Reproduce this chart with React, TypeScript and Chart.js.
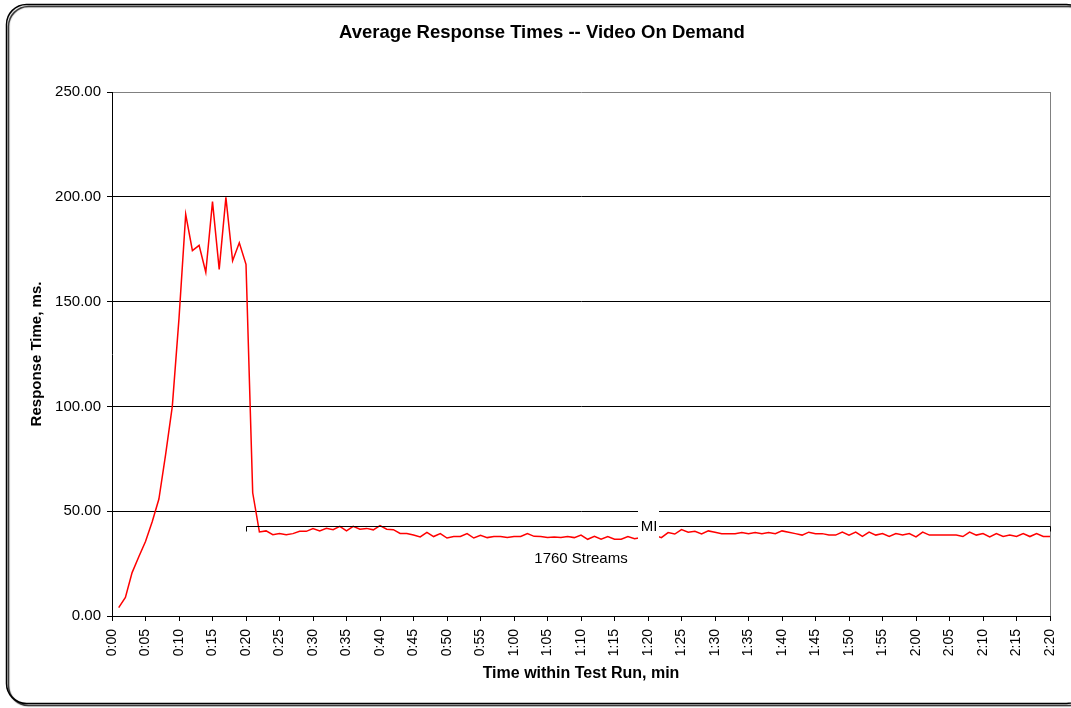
import React, { useEffect, useRef } from "react";
import { Chart, registerables } from "chart.js";

Chart.register(...registerables);

const TITLE = "Average Response Times -- Video On Demand";
const Y_TITLE = "Response Time, ms.";
const X_TITLE = "Time within Test Run, min";

// minutes 1..140
const MINUTES: number[] = Array.from({ length: 140 }, (_, i) => i + 1);

const RESPONSE_MS: number[] = [
  4.0, 8.9, 20.7, 28.3, 35.5, 45.0, 55.8, 77.0, 100.0, 142.0,
  191.6, 174.3, 176.8, 164.0, 197.7, 165.4, 199.7, 169.5, 178.1, 167.8,
  58.8, 40.1, 40.6, 38.8, 39.4, 38.8, 39.3, 40.4, 40.4, 41.7,
  40.6, 41.8, 41.2, 42.8, 40.6, 42.8, 41.4, 41.8, 41.1, 43.1,
  41.4, 41.2, 39.4, 39.4, 38.6, 37.7, 39.9, 37.9, 39.3, 37.2,
  37.9, 37.9, 39.3, 37.2, 38.5, 37.4, 37.9, 37.9, 37.4, 37.9,
  37.9, 39.3, 38.0, 37.9, 37.4, 37.7, 37.4, 37.9, 37.4, 38.6,
  36.6, 38.0, 36.6, 37.9, 36.6, 36.6, 37.9, 36.9, 37.5, 38.0,
  38.5, 37.4, 39.8, 39.1, 41.2, 40.0, 40.4, 39.1, 40.6, 40.0,
  39.3, 39.3, 39.3, 39.8, 39.3, 39.8, 39.3, 39.8, 39.3, 40.6,
  40.0, 39.3, 38.6, 40.0, 39.3, 39.3, 38.6, 38.6, 40.0, 38.6,
  40.0, 38.0, 40.0, 38.6, 39.3, 38.0, 39.3, 38.6, 39.3, 37.7,
  40.0, 38.6, 38.6, 38.6, 38.6, 38.6, 37.9, 40.0, 38.6, 39.3,
  37.7, 39.3, 37.9, 38.6, 37.9, 39.3, 37.9, 39.3, 37.9, 37.9,
];

const X_TICK_LABELS: string[] = [
  "0:00", "0:05", "0:10", "0:15", "0:20", "0:25", "0:30", "0:35", "0:40", "0:45",
  "0:50", "0:55", "1:00", "1:05", "1:10", "1:15", "1:20", "1:25", "1:30", "1:35",
  "1:40", "1:45", "1:50", "1:55", "2:00", "2:05", "2:10", "2:15", "2:20",
];

const Y_TICK_LABELS: string[] = ["0.00", "50.00", "100.00", "150.00", "200.00", "250.00"];

// annotation (bracket) values
const BRACKET_START = 20;
const BRACKET_END = 140;
const BRACKET_LEVEL = 43;
const BRACKET_MARK = "MI";
const BRACKET_MARK_AT = 80;
const PHASE_LABEL = "1760 Streams";
const PHASE_LABEL_AT = 70;
const PHASE_LABEL_LEVEL = 27.5;

const FONT = "'Liberation Sans', Arial, Helvetica, sans-serif";

export default function App() {
  const ref = useRef<HTMLCanvasElement | null>(null);

  useEffect(() => {
    if (!ref.current) return;

    const decor = {
      id: "decor",
      beforeDraw(chart: any) {
        const ctx = chart.ctx;
        ctx.save();
        ctx.fillStyle = "#fff";
        ctx.fillRect(0, 0, chart.width, chart.height);
        ctx.shadowColor = "rgba(0,0,0,0.9)";
        ctx.shadowOffsetX = 2;
        ctx.shadowOffsetY = 2;
        ctx.shadowBlur = 1;
        ctx.strokeStyle = "#000";
        ctx.lineWidth = 1.5;
        ctx.beginPath();
        (ctx as any).roundRect(6.5, 4.5, 1080, 699, 20);
        ctx.stroke();
        ctx.restore();
      },
      afterDatasetsDraw(chart: any) {
        const ctx = chart.ctx;
        const xs = chart.scales.x;
        const ys = chart.scales.y;
        const area = chart.chartArea;
        ctx.save();
        ctx.strokeStyle = "#808080";
        ctx.lineWidth = 1;
        ctx.beginPath();
        ctx.moveTo(Math.round(area.right) + 0.5, area.top);
        ctx.lineTo(Math.round(area.right) + 0.5, area.bottom);
        ctx.stroke();

        const bx1 = Math.round(xs.getPixelForValue(BRACKET_START)) + 0.5;
        const bx2 = Math.round(xs.getPixelForValue(BRACKET_END)) + 0.5;
        const by = Math.round(ys.getPixelForValue(BRACKET_LEVEL)) + 0.5;
        ctx.strokeStyle = "#000";
        ctx.lineWidth = 1;
        ctx.beginPath();
        ctx.moveTo(bx1, by + 5);
        ctx.lineTo(bx1, by);
        ctx.lineTo(bx2, by);
        ctx.lineTo(bx2, by + 5);
        ctx.stroke();

        const mx = xs.getPixelForValue(BRACKET_MARK_AT);
        ctx.fillStyle = "#fff";
        ctx.fillRect(mx - 10, by - 20, 21, 40);
        ctx.fillStyle = "#000";
        ctx.font = `15px ${FONT}`;
        ctx.textAlign = "center";
        ctx.textBaseline = "middle";
        ctx.fillText(BRACKET_MARK, mx + 1, by);

        ctx.font = `15px ${FONT}`;
        ctx.fillText(PHASE_LABEL, xs.getPixelForValue(PHASE_LABEL_AT), ys.getPixelForValue(PHASE_LABEL_LEVEL));

        ctx.font = `bold 18.5px ${FONT}`;
        ctx.fillText(TITLE, 542, 33);
        ctx.font = `bold 16px ${FONT}`;
        ctx.fillText(X_TITLE, (area.left + area.right) / 2, 674);
        ctx.font = `bold 15px ${FONT}`;
        ctx.translate(37, (area.top + area.bottom) / 2);
        ctx.rotate(-Math.PI / 2);
        ctx.fillText(Y_TITLE, 0, 0);
        ctx.restore();
      },
    };

    const chart = new Chart(ref.current, {
      type: "line",
      data: {
        datasets: [
          {
            data: MINUTES.map((m, i) => ({ x: m, y: RESPONSE_MS[i] })),
            borderColor: "#ff0000",
            borderWidth: 1.5,
            pointRadius: 0,
            tension: 0,
            fill: false,
          },
        ],
      },
      options: {
        responsive: false,
        animation: false,
        devicePixelRatio: 1,
        layout: { padding: { left: 0, top: 92, right: 21, bottom: 0 } },
        plugins: {
          legend: { display: false },
          title: { display: false },
          tooltip: { enabled: false },
        },
        scales: {
          x: {
            type: "linear",
            min: 0,
            max: 140,
            afterFit(scale: any) {
              scale.height = 92;
              scale.paddingLeft = 0;
              scale.paddingRight = 0;
            },
            afterBuildTicks(scale: any) {
              scale.ticks = X_TICK_LABELS.map((_, i) => ({ value: i * 5 }));
            },
            ticks: {
              stepSize: 5,
              autoSkip: false,
              maxRotation: 90,
              minRotation: 90,
              padding: 8,
              color: "#000",
              font: { family: FONT, size: 14 },
              callback: (_v: any, i: number) => X_TICK_LABELS[i],
            },
            grid: {
              drawOnChartArea: false,
              drawTicks: true,
              tickLength: 5,
              color: "#000",
              tickColor: "#000",
            },
            border: { color: "#000", width: 1 },
          },
          y: {
            type: "linear",
            min: 0,
            max: 250,
            afterFit(scale: any) {
              scale.width = 112;
              scale.paddingTop = 0;
              scale.paddingBottom = 0;
            },
            ticks: {
              stepSize: 50,
              padding: 6,
              color: "#000",
              font: { family: FONT, size: 15 },
              callback: (_v: any, i: number) => Y_TICK_LABELS[i],
            },
            grid: {
              drawOnChartArea: true,
              drawTicks: true,
              tickLength: 5,
              color: (c: any) => (c.tick && c.tick.value === 250 ? "#808080" : "#000"),
              tickColor: "#000",
            },
            border: { color: "#000", width: 1 },
          },
        },
      },
      plugins: [decor],
    });

    return () => chart.destroy();
  }, []);

  return (
    <div style={{ position: "absolute", left: 0, top: 0, width: 1071, height: 708 }}>
      <canvas ref={ref} width={1071} height={708} style={{ display: "block" }} />
    </div>
  );
}
